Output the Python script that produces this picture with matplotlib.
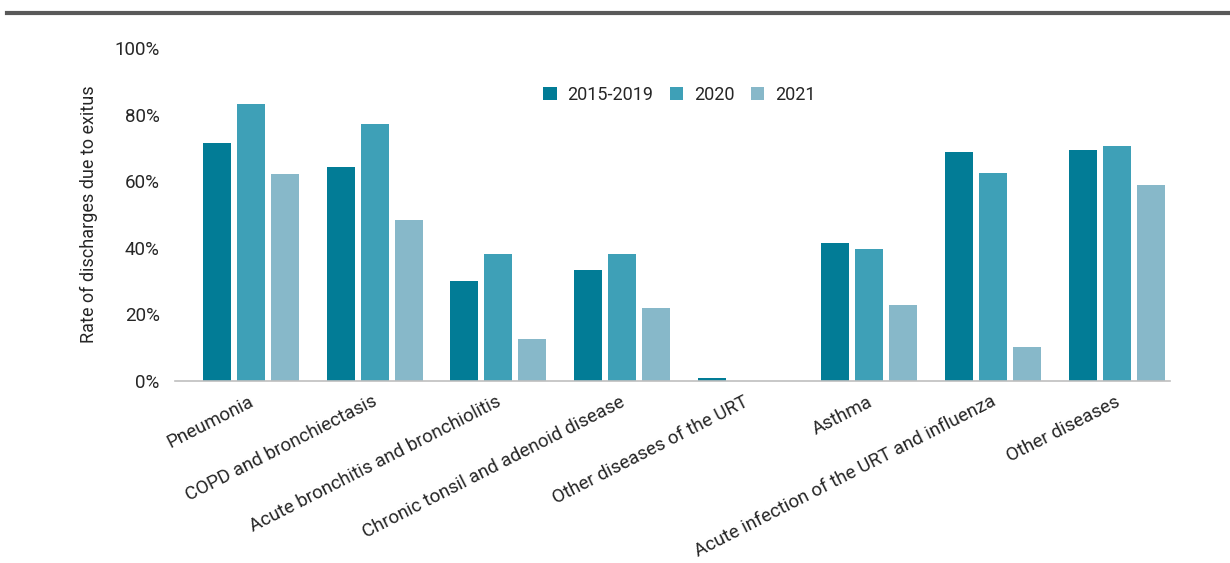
import numpy as np
import matplotlib
matplotlib.use("Agg")
import matplotlib.pyplot as plt
from matplotlib.lines import Line2D
from matplotlib.ticker import PercentFormatter

# discharge rates due to exitus, per diagnosis group and period
categories = ["Pneumonia", "COPD and bronchiectasis", "Acute bronchitis and bronchiolitis",
              "Chronic tonsil and adenoid disease", "Other diseases of the URT", "Asthma",
              "Acute infection of the URT and influenza", "Other diseases"]
periods = ["2015-2019", "2020", "2021"]
rate_2015_2019 = [71.4, 64.3, 30.0, 33.3, 0.9, 41.4, 68.8, 69.4]
rate_2020 = [83.2, 77.2, 38.1, 38.1, 0.0, 39.6, 62.5, 70.6]
rate_2021 = [62.2, 48.3, 12.6, 21.9, 0.0, 22.8, 10.2, 58.9]

colors = ["#027c96", "#3ea0b7", "#87b8c9"]
text_col = "#262626"

plt.rcParams["font.family"] = ["Roboto", "DejaVu Sans"]

fig = plt.figure(figsize=(12.3, 5.63), dpi=100)
ax = fig.add_axes([0.1423, 0.3233, 0.8089, 0.5914])

x = np.arange(len(categories))
step = 0.275
width = 0.226
for i, (vals, col) in enumerate(zip([rate_2015_2019, rate_2020, rate_2021], colors)):
    ax.bar(x + (i - 1) * step, vals, width=width, color=col, label=periods[i])

ax.set_xlim(-0.614, 7.43)
ax.set_ylim(0, 100)
ax.set_yticks([0, 20, 40, 60, 80, 100])
ax.yaxis.set_major_formatter(PercentFormatter(decimals=0))
ax.tick_params(axis="y", length=0, pad=11, labelsize=13.5, labelcolor=text_col)
ax.tick_params(axis="x", length=0)
ax.set_xticks(x)
ax.set_xticklabels([])

for s in ["top", "right", "left"]:
    ax.spines[s].set_visible(False)
ax.spines["bottom"].set_color("#bfbfbf")
ax.spines["bottom"].set_linewidth(1.2)

# rotated category labels, right end anchored under each group
for xi, name in zip(x, categories):
    ax.text(xi - 0.02, -3.5, name, rotation=27, ha="right", va="top", rotation_mode="anchor",
            fontsize=13.5, color=text_col)

ax.set_ylabel("Rate of discharges due to exitus", fontsize=13, color=text_col, labelpad=12)

ax.legend(loc="upper center", bbox_to_anchor=(0.507, 0.935), ncol=3, frameon=False,
          fontsize=13, handlelength=0.75, handleheight=0.75, handletextpad=0.6,
          columnspacing=0.9, labelcolor=text_col)

# dark rule across the top of the figure
fig.add_artist(Line2D([7 / 1230, 1], [1 - 13 / 563] * 2, color="#595959", linewidth=3,
                      transform=fig.transFigure))

fig.savefig("out.png", dpi=100)
